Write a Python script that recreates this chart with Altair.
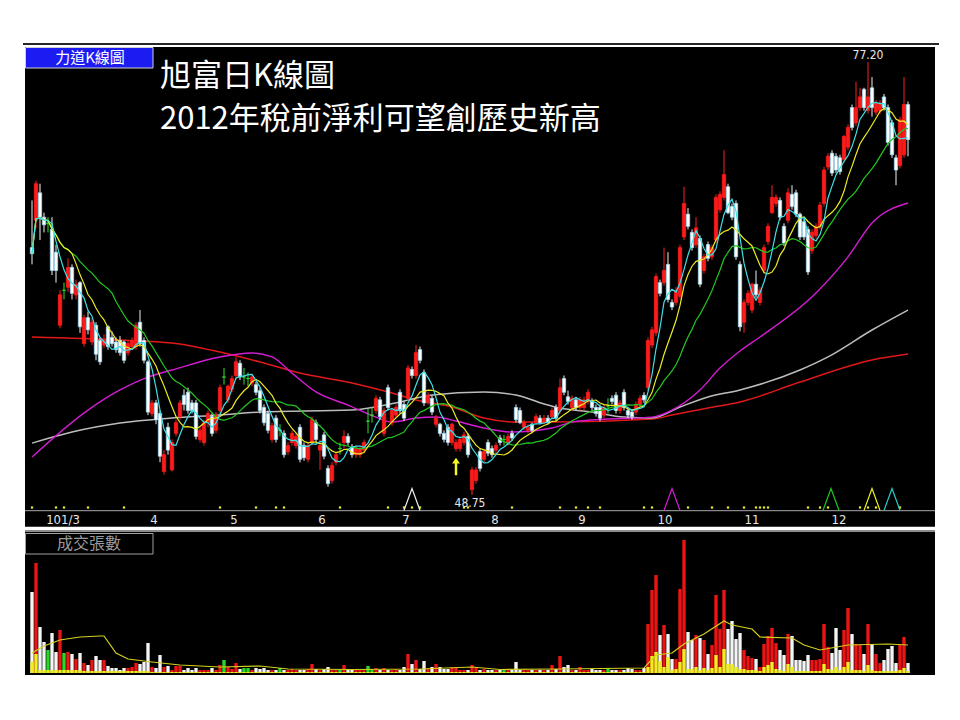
import altair as alt
import numpy as np
import pandas as pd

# ---------------- data ----------------
OPEN = [65.0, 66.8, 68.6, 67.0, 66.6, 66.2, 64.7, 59.9, 62.2, 62.4,
        63.7, 61.9, 62.7, 58.7, 60.4, 58.8, 59.9, 58.9, 58.6, 59.8,
        59.1, 58.8, 58.9, 58.8, 58.1, 58.5, 58.5, 60.1, 58.9, 57.5,
        54.1, 54.8, 54.1, 50.3, 53.2, 50.4, 52.8, 53.9, 55.3, 55.5,
        54.8, 54.8, 52.4, 52.2, 53.5, 53.9, 53.0, 54.3, 56.5, 55.0,
        55.7, 56.6, 57.4, 56.5, 56.4, 56.1, 56.0, 55.6, 54.5, 54.1,
        52.4, 53.8, 53.0, 52.8, 51.6, 52.2, 52.0, 53.2, 52.0, 51.1,
        52.2, 53.5, 51.7, 52.7, 50.5, 49.7, 50.9, 51.8, 52.2, 52.6,
        51.9, 51.4, 51.4, 51.7, 53.6, 54.0, 54.3, 55.0, 52.8, 55.8,
        53.5, 54.0, 55.5, 54.7, 55.1, 57.0, 56.6, 58.3, 56.8, 54.9,
        55.1, 53.4, 53.4, 52.8, 53.2, 52.2, 51.8, 51.8, 52.2, 52.6,
        49.1, 49.7, 51.6, 51.1, 52.2, 51.8, 51.7, 52.5, 52.4, 52.2,
        52.8, 54.5, 54.3, 53.2, 53.0, 53.4, 53.5, 53.8, 53.5, 53.8,
        53.9, 54.5, 54.3, 56.4, 55.2, 54.5, 55.0, 54.5, 54.5, 54.9,
        54.9, 54.5, 54.5, 54.0, 54.6, 55.1, 55.3, 54.3, 55.5, 54.3,
        54.2, 54.2, 54.7, 55.3, 55.8, 58.6, 59.4, 62.7, 62.7, 63.9,
        61.4, 61.4, 61.8, 65.7, 67.2, 66.0, 65.2, 65.6, 63.5, 65.2,
        64.4, 65.5, 67.5, 68.3, 69.0, 67.7, 67.9, 63.9, 60.1, 61.4,
        60.9, 62.6, 61.4, 63.5, 65.4, 67.3, 67.9, 68.1, 66.4, 66.8,
        68.5, 68.6, 67.2, 66.7, 66.2, 64.8, 65.8, 66.4, 67.9, 70.3,
        71.2, 71.0, 70.9, 70.8, 71.6, 74.2, 73.2, 74.2, 75.4, 74.0,
        75.5, 73.9, 74.0, 74.9, 74.2, 73.2, 70.9, 70.4, 71.1, 74.4]
HIGH = [68.1, 69.4, 69.2, 67.3, 67.0, 67.0, 65.2, 62.2, 62.7, 64.3,
        63.9, 62.9, 62.8, 60.6, 60.8, 60.4, 60.1, 59.1, 59.3, 59.9,
        59.5, 59.1, 59.2, 58.9, 58.9, 59.1, 60.1, 60.9, 59.1, 57.6,
        55.0, 55.0, 54.3, 51.7, 53.5, 52.4, 53.7, 55.0, 55.7, 55.8,
        55.0, 55.0, 53.2, 53.7, 54.3, 54.1, 54.2, 56.0, 57.1, 56.0,
        56.6, 57.8, 57.6, 57.1, 56.8, 56.7, 56.2, 55.8, 54.7, 54.3,
        53.5, 54.0, 53.4, 53.0, 52.2, 53.0, 52.8, 53.4, 52.2, 52.2,
        53.9, 53.7, 52.4, 52.9, 50.7, 50.9, 51.6, 52.2, 53.0, 52.8,
        52.1, 52.0, 52.0, 52.4, 54.4, 54.5, 55.3, 55.2, 54.5, 56.0,
        54.5, 54.7, 55.7, 54.9, 57.3, 57.2, 58.6, 58.5, 57.0, 55.5,
        55.3, 54.0, 53.5, 53.0, 53.4, 53.5, 52.4, 52.6, 52.9, 52.8,
        50.6, 50.6, 51.8, 51.8, 52.4, 52.0, 52.2, 52.7, 52.7, 52.8,
        53.0, 54.7, 54.5, 53.7, 53.4, 53.5, 54.1, 54.0, 54.0, 54.0,
        54.5, 54.7, 56.4, 56.6, 55.6, 55.3, 55.2, 55.2, 55.2, 55.7,
        55.1, 54.7, 54.7, 54.7, 55.1, 55.3, 55.5, 55.0, 55.7, 54.5,
        54.4, 54.9, 55.3, 55.5, 59.1, 59.8, 63.3, 62.9, 65.0, 64.7,
        61.6, 62.4, 65.2, 69.0, 67.6, 66.2, 67.0, 65.8, 64.6, 65.4,
        65.2, 68.5, 68.7, 71.4, 69.2, 67.9, 68.1, 64.1, 61.6, 62.2,
        62.7, 63.5, 62.4, 65.2, 66.6, 69.1, 68.5, 68.3, 66.6, 68.9,
        69.1, 68.8, 67.3, 66.9, 66.4, 66.2, 66.6, 68.0, 70.3, 71.2,
        71.4, 71.2, 71.1, 72.4, 73.1, 74.4, 75.9, 75.5, 75.5, 77.2,
        76.2, 74.7, 74.7, 75.1, 74.4, 73.4, 71.1, 73.6, 76.2, 74.6]
LOW = [63.9, 66.3, 65.5, 66.0, 66.0, 63.2, 62.7, 59.7, 61.6, 62.1,
       61.6, 61.6, 59.4, 58.5, 59.3, 58.6, 57.6, 57.3, 58.4, 58.3,
       58.5, 58.1, 57.9, 57.4, 57.9, 58.3, 58.3, 58.5, 57.4, 54.0,
       53.9, 53.4, 50.9, 50.1, 51.4, 50.3, 52.6, 53.7, 54.3, 54.1,
       54.1, 52.4, 52.2, 52.0, 53.2, 52.6, 52.8, 54.1, 56.0, 54.8,
       55.5, 56.4, 56.3, 56.0, 55.9, 55.9, 55.3, 54.1, 53.3, 52.8,
       52.2, 52.2, 52.6, 51.2, 51.4, 52.0, 51.8, 50.9, 51.0, 50.9,
       52.0, 52.2, 50.4, 51.1, 49.3, 49.5, 50.7, 51.4, 51.8, 52.0,
       51.2, 51.2, 51.2, 51.5, 52.8, 53.5, 54.1, 53.7, 52.6, 54.3,
       53.3, 53.8, 54.1, 53.6, 54.9, 56.4, 56.4, 57.4, 54.6, 54.7,
       54.0, 53.2, 52.6, 52.2, 52.0, 52.0, 51.6, 51.6, 52.0, 51.2,
       48.75, 49.5, 50.3, 50.9, 51.3, 51.2, 51.5, 52.0, 52.0, 52.0,
       52.3, 53.5, 53.4, 53.0, 52.8, 52.8, 53.4, 53.4, 53.4, 53.4,
       53.7, 53.6, 54.1, 55.3, 54.7, 54.3, 54.3, 54.3, 54.3, 54.7,
       54.3, 53.9, 53.6, 53.8, 54.1, 54.7, 54.1, 54.1, 54.3, 53.8,
       53.7, 54.0, 54.5, 54.8, 55.6, 58.4, 59.2, 61.8, 62.5, 61.4,
       60.9, 61.2, 61.6, 65.5, 66.2, 64.8, 65.0, 62.4, 63.3, 64.1,
       64.2, 65.3, 67.3, 68.1, 67.2, 66.8, 64.2, 59.5, 59.4, 61.2,
       60.7, 61.7, 61.2, 63.3, 65.2, 67.2, 67.7, 66.8, 65.1, 66.6,
       67.5, 67.0, 65.5, 65.5, 63.2, 64.6, 65.6, 66.2, 67.7, 70.1,
       69.7, 69.9, 69.8, 70.6, 71.4, 72.7, 73.0, 74.0, 74.0, 73.8,
       73.6, 73.7, 73.8, 74.0, 71.7, 70.9, 69.1, 70.2, 70.9, 71.0]
CLOSE = [64.6, 69.2, 67.0, 66.5, 66.6, 63.5, 63.5, 61.9, 62.2, 63.7,
         62.0, 62.6, 59.8, 60.4, 59.6, 60.1, 58.0, 57.5, 58.9, 58.5,
         58.7, 58.3, 58.1, 57.6, 58.7, 58.9, 59.9, 58.7, 57.6, 54.2,
         54.8, 53.7, 51.3, 51.4, 51.7, 52.2, 53.5, 54.8, 54.7, 54.3,
         54.3, 52.6, 53.0, 53.5, 54.1, 52.8, 54.0, 55.8, 56.5, 55.9,
         56.4, 57.5, 56.5, 56.5, 56.4, 56.5, 55.5, 54.3, 53.5, 53.0,
         53.3, 52.4, 53.0, 51.4, 52.0, 52.8, 52.6, 51.1, 51.2, 52.0,
         53.7, 52.4, 52.0, 51.3, 49.5, 50.7, 51.4, 51.8, 52.6, 52.2,
         51.4, 51.8, 51.8, 52.2, 53.6, 54.0, 55.1, 53.9, 54.3, 54.5,
         54.3, 54.5, 54.3, 53.8, 57.1, 56.6, 58.1, 57.6, 54.8, 55.3,
         54.2, 53.8, 52.8, 52.4, 52.2, 53.4, 52.2, 52.4, 52.7, 51.4,
         50.4, 50.4, 50.5, 51.6, 51.5, 51.4, 52.0, 52.2, 52.4, 52.6,
         52.5, 53.7, 53.5, 53.5, 53.2, 53.0, 53.9, 53.5, 53.8, 53.5,
         54.3, 53.8, 55.8, 55.5, 54.9, 55.1, 54.5, 55.0, 55.0, 55.5,
         54.5, 54.1, 53.8, 54.5, 54.6, 54.9, 54.3, 54.8, 54.5, 54.0,
         53.9, 54.7, 55.1, 55.0, 58.9, 59.6, 63.1, 62.0, 63.5, 61.6,
         61.1, 62.2, 65.0, 67.9, 66.4, 65.0, 66.3, 62.6, 64.4, 64.3,
         65.0, 68.3, 68.5, 69.8, 67.3, 67.0, 64.4, 59.8, 61.4, 62.0,
         62.6, 61.9, 62.2, 65.0, 66.4, 68.3, 68.3, 67.0, 65.3, 68.6,
         67.7, 67.2, 65.7, 65.7, 63.4, 66.0, 66.4, 67.8, 70.1, 71.0,
         69.9, 70.1, 70.0, 72.3, 72.9, 72.9, 74.2, 74.9, 74.2, 74.9,
         74.2, 74.5, 74.5, 74.2, 71.9, 71.1, 70.1, 73.4, 74.4, 72.1]

# daily volume (lots) and the yellow part of each bar
VOLUME = [4050, 5500, 2300, 1550, 1150, 2000, 1050, 2150, 1000, 1050,
          950, 700, 1000, 500, 400, 650, 850, 650, 650, 350,
          250, 250, 150, 250, 250, 300, 500, 450, 550, 1500,
          300, 250, 900, 300, 350, 150, 350, 350, 150, 250,
          150, 250, 150, 150, 150, 250, 150, 400, 650, 300,
          200, 500, 200, 250, 250, 150, 250, 200, 250, 150,
          150, 150, 250, 150, 150, 200, 150, 150, 150, 200,
          450, 200, 150, 200, 300, 150, 150, 150, 400, 150,
          150, 150, 150, 150, 350, 200, 250, 150, 250, 150,
          150, 200, 150, 300, 950, 450, 650, 200, 600, 200,
          300, 450, 300, 200, 200, 300, 300, 150, 150, 150,
          400, 300, 150, 200, 150, 150, 150, 150, 150, 150,
          150, 550, 150, 150, 150, 150, 150, 150, 150, 150,
          400, 200, 850, 300, 400, 150, 150, 300, 150, 150,
          200, 150, 150, 150, 250, 150, 150, 150, 150, 250,
          200, 150, 150, 250, 2450, 4150, 4900, 1900, 2400, 1950,
          700, 700, 4200, 6650, 2050, 1650, 1900, 1750, 1650, 950,
          1400, 3900, 2200, 4150, 2200, 2600, 1700, 2000, 1150, 850,
          750, 700, 300, 1450, 1850, 2250, 1500, 1150, 900, 1950,
          1850, 650, 650, 600, 900, 650, 650, 700, 2450, 1300,
          1000, 2250, 1150, 2150, 3250, 1950, 1450, 1400, 950, 2450,
          1450, 950, 500, 650, 1200, 1350, 500, 1400, 1800, 500]
VOLUME_YELLOW = [550, 950, 150, 150, 150, 150, 150, 150, 150, 150,
                 150, 150, 150, 100, 100, 100, 100, 100, 100, 100,
                 100, 100, 100, 100, 100, 100, 100, 100, 100, 100,
                 50, 50, 50, 50, 50, 50, 50, 50, 50, 50,
                 50, 50, 50, 50, 50, 50, 50, 50, 50, 50,
                 50, 50, 50, 50, 50, 50, 50, 50, 50, 50,
                 50, 50, 50, 50, 50, 50, 50, 50, 50, 50,
                 50, 50, 50, 50, 50, 50, 50, 50, 50, 50,
                 50, 50, 50, 50, 50, 50, 50, 50, 50, 50,
                 50, 50, 50, 50, 50, 50, 50, 50, 50, 50,
                 50, 50, 50, 50, 50, 50, 50, 50, 50, 50,
                 50, 50, 50, 50, 50, 50, 50, 50, 50, 50,
                 50, 50, 50, 50, 50, 50, 50, 50, 50, 50,
                 50, 50, 50, 50, 50, 50, 50, 50, 50, 50,
                 50, 50, 50, 50, 50, 50, 50, 50, 50, 50,
                 50, 50, 50, 50, 300, 850, 1050, 600, 300, 800,
                 150, 200, 550, 1200, 200, 200, 300, 150, 250, 150,
                 250, 900, 300, 1200, 450, 450, 300, 200, 200, 150,
                 150, 150, 100, 300, 400, 550, 200, 150, 100, 450,
                 300, 100, 100, 100, 100, 100, 100, 100, 450, 200,
                 150, 300, 150, 300, 550, 150, 150, 150, 100, 400,
                 150, 100, 100, 100, 100, 100, 100, 150, 250, 100]

# slow moving averages (values read at sample days)
MA60_IDX = [0, 14, 22, 29, 35, 47, 55, 60, 65, 71, 79, 86, 90, 96, 101, 106,
            113, 120, 130, 135, 144, 155, 160, 167, 172, 177, 182, 196, 204, 210, 219]
MA60_VAL = [51.25, 54.33, 55.65, 56.50, 56.96, 57.82, 58.08, 57.82, 56.76, 55.52,
            54.66, 53.87, 53.54, 53.81, 53.87, 53.61, 53.15, 52.89, 53.15, 53.54,
            53.74, 53.87, 54.33, 55.65, 57.09, 58.21, 59.13, 62.02, 64.39, 66.62, 67.93]
MA120_IDX = [0, 10, 22, 35, 47, 57, 80, 92, 100, 113, 121, 128, 132, 140, 148,
             155, 162, 169, 177, 192, 199, 210, 219]
MA120_VAL = [52.16, 52.89, 53.48, 53.81, 54.00, 54.20, 54.33, 54.86, 55.32, 55.52,
             55.32, 54.73, 54.46, 54.20, 53.87, 53.81, 54.53, 55.19, 55.65, 56.96,
             57.82, 59.59, 60.90]
MA240_IDX = [0, 22, 35, 47, 57, 67, 80, 90, 96, 105, 113, 121, 130, 155, 160,
             169, 177, 192, 210, 219]
MA240_VAL = [59.13, 58.93, 58.74, 58.14, 57.49, 56.76, 56.11, 55.45, 54.99, 54.53,
             53.81, 53.54, 53.54, 53.74, 54.00, 54.46, 54.86, 56.17, 57.62, 58.01]
VMA_IDX = [0, 3, 7, 12, 17, 18, 21, 24, 30, 37, 47, 57, 64, 80, 97, 110, 117,
           132, 153, 156, 160, 163, 168, 173, 175, 180, 182, 190, 193, 197, 204, 214, 219]
VMA_VAL = [1000, 1350, 1650, 1800, 1850, 1850, 1000, 700, 550, 400, 300, 350, 200,
           175, 200, 300, 175, 200, 250, 900, 1000, 1450, 1950, 2600, 2400, 2200,
           1800, 1750, 1400, 1150, 1400, 1450, 1400]

MONTH_IDX = [7.75, 30.5, 50.5, 72.5, 93.5, 115.75, 137.5, 158.25, 180, 201.75]
MONTH_LABELS = ["101/3", "4", "5", "6", "7", "8", "9", "10", "11", "12"]
DOT_IDX = [0, 6, 8, 14, 23, 47, 56, 61, 63, 77, 89, 93, 95, 97, 108, 109, 120,
           132, 136, 139, 142, 153, 155, 164, 170, 174, 178, 181, 182, 183, 184,
           194, 197, 199, 207, 209, 211, 217]
SIGNAL_IDX = [95, 160, 199.75, 210, 215]
SIGNAL_NAMES = ["s1", "s2", "s3", "s4", "s5"]
SIGNAL_COLORS = ["#f0f0f0", "#d21cd2", "#20c820", "#eeee22", "#22cccc"]
ARROW_IDX = [106]

TITLE1 = "旭富日K線圖"
TITLE2 = "2012年稅前淨利可望創歷史新高"
BOX1 = "力道K線圖"
BOX2 = "成交張數"

# ---------------- frames ----------------
n = len(CLOSE)
df = pd.DataFrame({"i": np.arange(n), "O": OPEN, "H": HIGH, "L": LOW, "C": CLOSE,
                   "V": VOLUME, "VY": VOLUME_YELLOW})
df["dir"] = np.where(df.C > df.O, "up", np.where(df.C < df.O, "down", "flat"))
df["z"] = 0
one = pd.DataFrame({"a": [0]})

W, Hh = 910, 628
xs = alt.Scale(domain=[-1.75, 225.75], nice=False, zero=False)
ys = alt.Scale(domain=[47.70, 78.18], range=[464, 0], nice=False, zero=False)
vs = alt.Scale(domain=[0, 7000], range=[626, 486], nice=False, zero=False)
DIRS = ["up", "down", "flat"]

def X(f):
    return alt.X(f, scale=xs, axis=None)

def YP(f):
    return alt.Y(f, scale=ys, axis=None)

def YV(f):
    return alt.Y(f, scale=vs, axis=None)

def box(x1, x2, y1, y2, **kw):
    return alt.Chart(one).mark_rect(**kw).encode(
        x=alt.value(x1), x2=alt.value(x2), y=alt.value(y1), y2=alt.value(y2))

def label(text, x, y, **kw):
    return alt.Chart(pd.DataFrame({"t": [text]})).mark_text(**kw).encode(
        x=alt.value(x), y=alt.value(y), text="t:N")

CJK = "Noto Sans CJK TC"
NARROW = "Liberation Sans Narrow, DejaVu Sans Condensed, Liberation Sans"

base = alt.Chart(df)
body_base = base.transform_calculate(x0="datum.i - 0.42", x1="datum.i + 0.42")

# background pieces
white_band = box(0, W, 479.7, 483, fill="white")
gray_band = box(0, W, 483, 485, fill="#8c8c8c")
sep_line = alt.Chart(one).mark_rule(color="#a8a8a8", strokeWidth=1).encode(
    x=alt.value(0), x2=alt.value(W), y=alt.value(463.7))
top_line = alt.Chart(one).mark_rule(color="#262626", strokeWidth=2).encode(
    x=alt.value(-2), x2=alt.value(W + 4), y=alt.value(-3))

dots = alt.Chart(pd.DataFrame({"i": DOT_IDX})).mark_square(
    size=5, color="#e6e62a", opacity=1).encode(x=X("i:Q"), y=alt.value(460.5))

tri = alt.Chart(pd.DataFrame({"i": SIGNAL_IDX, "s": SIGNAL_NAMES})).mark_point(
    shape="M-0.73,1L0,-1L0.73,1", filled=False, size=484, strokeWidth=1.2, opacity=1
).encode(x=X("i:Q"), y=alt.value(452.5),
         color=alt.Color("s:N", scale=alt.Scale(domain=SIGNAL_NAMES, range=SIGNAL_COLORS),
                         legend=None))

# candles
wick = base.mark_rule(strokeWidth=1).encode(
    x=X("i:Q"), y=YP("L:Q"), y2="H:Q",
    color=alt.Color("dir:N", scale=alt.Scale(domain=DIRS, range=["#ff2020", "#f2f2f2", "#30e030"]),
                    legend=None))
body = body_base.mark_rect(strokeWidth=0.8).encode(
    x=X("x0:Q"), x2="x1:Q", y=YP("O:Q"), y2="C:Q",
    fill=alt.Fill("dir:N", scale=alt.Scale(domain=DIRS, range=["#ff1a1a", "#ffffff", "#30e030"]),
                  legend=None),
    stroke=alt.Stroke("dir:N", scale=alt.Scale(domain=DIRS, range=["#ff1a1a", "#9fdcf5", "#30e030"]),
                      legend=None))

def slow(idx, val, color, w):
    return alt.Chart(pd.DataFrame({"i": idx, "v": val})).mark_line(
        color=color, strokeWidth=w, interpolate="monotone").encode(x=X("i:Q"), y=YP("v:Q"))

def fast(k, color):
    return base.transform_window(
        ma="mean(C)", frame=[-(k - 1), 0], sort=[{"field": "i"}]
    ).mark_line(color=color, strokeWidth=1.2).encode(x=X("i:Q"), y=YP("ma:Q"))

ma240 = slow(MA240_IDX, MA240_VAL, "#e01818", 1.5)
ma120 = slow(MA120_IDX, MA120_VAL, "#bcbcbc", 1.5)
ma60 = slow(MA60_IDX, MA60_VAL, "#d21cd2", 1.4)
ma20 = fast(20, "#22c822")
ma10 = fast(10, "#ecec24")
ma5 = fast(5, "#3ee0e8")

arrow = alt.Chart(pd.DataFrame({"i": ARROW_IDX})).mark_point(
    shape="M0,-1L0.45,-0.35L0.14,-0.35L0.14,1L-0.14,1L-0.14,-0.35L-0.45,-0.35Z",
    filled=True, size=300, color="#f5f520", opacity=1).encode(x=X("i:Q"), y=alt.value(419.5))

hi_i = int(df.H.idxmax())
lo_i = int(df.L.idxmin())
hi_text = alt.Chart(pd.DataFrame({"i": [hi_i], "p": [df.H[hi_i]], "t": [f"{df.H[hi_i]:.2f}"]})).mark_text(
    color="#e8e8e8", fontSize=12, font=NARROW, dy=-7).encode(x=X("i:Q"), y=YP("p:Q"), text="t:N")
lo_text = alt.Chart(pd.DataFrame({"i": [lo_i], "p": [df.L[lo_i]], "t": [f"{df.L[lo_i]:.2f}"]})).mark_text(
    color="#e8e8e8", fontSize=12, font=NARROW, dy=8, dx=-2).encode(x=X("i:Q"), y=YP("p:Q"), text="t:N")

months = alt.Chart(pd.DataFrame({"i": MONTH_IDX, "t": MONTH_LABELS})).mark_text(
    color="#e6e6e6", fontSize=13, font=NARROW, baseline="middle").encode(
    x=X("i:Q"), y=alt.value(473), text="t:N")

# volume
vol = body_base.mark_rect().encode(
    x=X("x0:Q"), x2="x1:Q", y=YV("V:Q"), y2="z:Q",
    color=alt.Color("dir:N", scale=alt.Scale(domain=DIRS, range=["#ee1414", "#f4f4f4", "#28d828"]),
                    legend=None))
vol_y = body_base.mark_rect(color="#f0f020").encode(
    x=X("x0:Q"), x2="x1:Q", y=YV("VY:Q"), y2="z:Q")
vma = alt.Chart(pd.DataFrame({"i": VMA_IDX, "v": VMA_VAL})).mark_line(
    color="#d2d21e", strokeWidth=1.2).encode(x=X("i:Q"), y=YV("v:Q"))

# boxes & titles
blue_box = box(0.5, 128, 0.5, 21, fill="#1c1cf2", stroke="#cfcfcf", strokeWidth=1)
blue_text = label(BOX1, 65, 11, color="white", fontSize=15, font=CJK, baseline="middle")
vol_box = box(0.5, 128, 486.5, 507, fill="black", stroke="#a0a0a0", strokeWidth=1)
vol_text = label(BOX2, 64, 497, color="#9a9a9a", fontSize=16, font=CJK, baseline="middle")
title1 = label(TITLE1, 135, 30, color="white", fontSize=31, font=CJK, align="left", baseline="middle")
title2 = label(TITLE2, 135, 73, color="white", fontSize=31, font=CJK, align="left", baseline="middle")

chart = alt.layer(
    white_band, gray_band, sep_line, top_line, dots, tri,
    ma240, ma120, ma60,
    wick, body,
    ma20, ma10, ma5,
    arrow, hi_text, lo_text, months,
    vol, vol_y, vma,
    blue_box, blue_text, vol_box, vol_text, title1, title2,
).resolve_scale(
    y="independent", color="independent", fill="independent", stroke="independent"
).properties(
    width=W, height=Hh,
    padding={"left": 17, "top": 39, "right": 8, "bottom": 8},
    autosize=alt.AutoSizeParams(type="none"),
    background="white",
).configure_view(fill="black", stroke=None)

chart.save("out.html", embed_options={"renderer": "svg", "actions": False})
